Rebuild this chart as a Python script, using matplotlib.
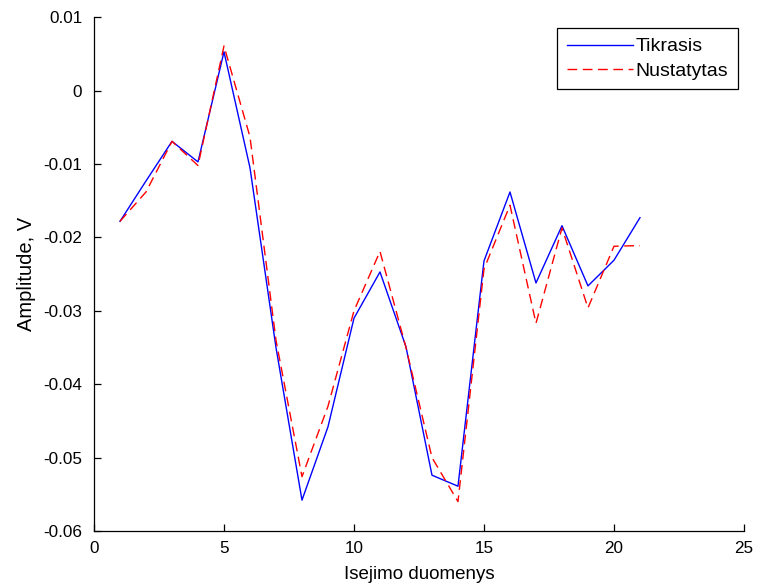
import matplotlib
matplotlib.use("Agg")
import matplotlib.pyplot as plt

plt.rcParams['font.family'] = ['Liberation Sans', 'DejaVu Sans']

# Output sample index
samples = list(range(1, 22))

# Measured amplitude (V)
tikrasis = [-0.0178, -0.0123, -0.0069, -0.0097, 0.0053, -0.0105, -0.0350,
            -0.0558, -0.0458, -0.0310, -0.0247, -0.0349, -0.0524, -0.0539,
            -0.0232, -0.0138, -0.0262, -0.0184, -0.0266, -0.0231, -0.0173]

# Estimated amplitude (V)
nustatytas = [-0.0178, -0.0138, -0.0069, -0.0102, 0.0061, -0.0063, -0.0340,
              -0.0526, -0.0430, -0.0300, -0.0219, -0.0350, -0.0500, -0.0560,
              -0.0243, -0.0156, -0.0317, -0.0187, -0.0296, -0.0212, -0.0211]

x_ticks = [0, 5, 10, 15, 20, 25]
y_ticks = [-0.06, -0.05, -0.04, -0.03, -0.02, -0.01, 0, 0.01]
y_tick_labels = ['-0.06', '-0.05', '-0.04', '-0.03', '-0.02', '-0.01', '0', '0.01']

fig = plt.figure(figsize=(7.58, 5.88), dpi=100)
ax = fig.add_axes([0.124, 0.097, 0.8575, 0.8735])

ax.plot(samples, tikrasis, color='#0000ff', lw=1.0, label='Tikrasis')
ax.plot(samples, nustatytas, color='#ff0000', lw=1.0, linestyle=(0, (7, 4)),
        label='Nustatytas')

ax.set_xlim(0, 25)
ax.set_ylim(-0.06, 0.01)
ax.set_xticks(x_ticks)
ax.set_yticks(y_ticks)
ax.set_yticklabels(y_tick_labels)

for side in ('top', 'right'):
    ax.spines[side].set_visible(False)
for side in ('left', 'bottom'):
    ax.spines[side].set_linewidth(0.9)

ax.tick_params(direction='in', length=5, width=0.9, labelsize=12.3,
               top=False, right=False)
ax.tick_params(axis='y', pad=8.5)
ax.tick_params(axis='x', pad=7.5)

ax.set_xlabel('Isejimo duomenys', fontsize=13.5, labelpad=7)
ax.set_ylabel('Amplitude, V', fontsize=14.5, labelpad=5)

leg = ax.legend(loc='upper right', bbox_to_anchor=(738 / 758, 1 - 28 / 588),
                bbox_transform=fig.transFigure, fontsize=14, frameon=True,
                fancybox=False, edgecolor='black', framealpha=1,
                handlelength=3.4, handletextpad=0.15, borderpad=0.5,
                labelspacing=0.35, borderaxespad=0)
leg.get_frame().set_linewidth(0.9)

fig.savefig('out.png', dpi=100, facecolor='white')
